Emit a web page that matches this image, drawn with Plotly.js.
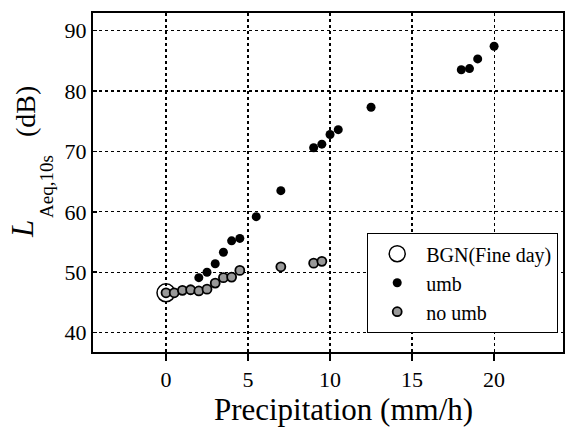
<!DOCTYPE html>
<html><head><meta charset="utf-8">
<script src="https://cdn.plot.ly/plotly-3.0.1.min.js"></script>
<style>html,body{margin:0;padding:0;background:#fff}#c{width:568px;height:429px}</style>
</head><body><div id="c"></div>
<script>
const bgnX = [0];
const bgnY = [46.6];
const umbX = [2, 2.5, 3, 3.5, 4, 4.5, 5.5, 7, 9, 9.5, 10, 10.5, 12.5, 18, 18.5, 19, 20];
const umbY = [49.1, 50.0, 51.4, 53.3, 55.2, 55.6, 59.2, 63.5, 70.6, 71.2, 72.8, 73.6, 77.3, 83.5, 83.7, 85.3, 87.4];
const noUmbX = [0, 0.5, 1, 1.5, 2, 2.5, 3, 3.5, 4, 4.5, 7, 9, 9.5];
const noUmbY = [46.6, 46.6, 47.0, 47.1, 46.9, 47.2, 48.2, 49.1, 49.2, 50.3, 50.9, 51.5, 51.8];
const xTicks = [0, 5, 10, 15, 20];
const yTicks = [40, 50, 60, 70, 80, 90];

const font = 'Liberation Serif, Times New Roman, serif';
const traces = [
  {x: bgnX, y: bgnY, name: 'BGN(Fine day)', mode: 'markers', type: 'scatter',
   marker: {symbol: 'circle-open', size: 18, color: '#000', line: {width: 1.5, color: '#000'}}},
  {x: umbX, y: umbY, name: 'umb', mode: 'markers', type: 'scatter',
   marker: {symbol: 'circle', size: 9, color: '#000'}},
  {x: noUmbX, y: noUmbY, name: 'no umb', mode: 'markers', type: 'scatter',
   marker: {symbol: 'circle', size: 9, color: '#999', line: {width: 1.8, color: '#000'}}}
];
const ann = (text, x, y, size) => ({text, x, y, xref: 'paper', yref: 'paper',
  xanchor: 'center', yanchor: 'middle', textangle: -90, showarrow: false,
  font: {family: font, size, color: '#000'}});
const layout = {
  width: 568, height: 429,
  margin: {l: 93, r: 5, t: 13, b: 77},
  paper_bgcolor: '#fff', plot_bgcolor: '#fff',
  font: {family: font, color: '#000', size: 22},
  showlegend: true,
  legend: {x: 0.583, y: 0.351, xanchor: 'left', yanchor: 'top',
    bgcolor: '#fff', bordercolor: '#000', borderwidth: 1.2,
    font: {family: font, size: 20, color: '#000'}, tracegroupgap: 0, itemwidth: 48},
  annotations: [
    ann('<i>L</i>', -0.15, 0.3614, 31),
    ann('Aeq,10s', -0.098, 0.4897, 19),
    ann('(dB)', -0.1436, 0.7094, 28)
  ],
  xaxis: {range: [-4.45, 24.2], tickvals: xTicks, ticktext: xTicks.map(String),
    showgrid: true, gridcolor: '#000', griddash: 'dot', gridwidth: 1.2,
    zeroline: false, showline: true, linecolor: '#000', linewidth: 2, mirror: true,
    ticks: 'outside', ticklen: 7, tickwidth: 2, tickcolor: '#000',
    tickfont: {family: font, size: 22},
    title: {text: '&nbsp;&nbsp;&nbsp;&nbsp;Precipitation (mm/h)', font: {family: font, size: 31}, standoff: 4}},
  yaxis: {range: [36.8, 92.9], tickvals: yTicks, ticktext: yTicks.map(String),
    showgrid: true, gridcolor: '#000', griddash: 'dot', gridwidth: 1.2,
    zeroline: false, showline: true, linecolor: '#000', linewidth: 2, mirror: true,
    ticks: 'inside', ticklen: 4, tickwidth: 1.5, tickcolor: '#000',
    tickfont: {family: font, size: 22}}
};
Plotly.newPlot('c', traces, layout, {displayModeBar: false, staticPlot: true});
</script></body></html>
